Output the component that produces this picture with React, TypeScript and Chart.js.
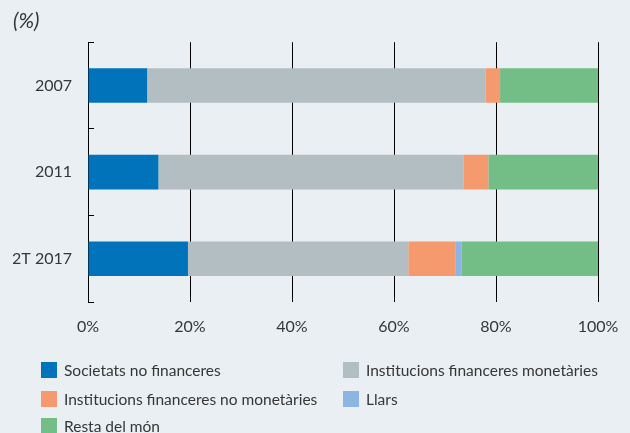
import { useEffect, useRef } from 'react';
import { Chart, registerables } from 'chart.js';

Chart.register(...registerables);

const categories = ['2007', '2011', '2T 2017'];
const seriesNames = [
  'Societats no financeres',
  'Institucions financeres monetàries',
  'Institucions financeres no monetàries',
  'Llars',
  'Resta del món',
];
const societats = [11.6, 13.8, 19.6];
const ifm = [66.4, 59.8, 43.2];
const inm = [2.8, 4.9, 9.2];
const llars = [0, 0, 1.2];
const resta = [19.2, 21.5, 26.8];
const seriesColors = ['#0073bb', '#b3bec2', '#f49a6e', '#8db4e2', '#72be86'];
const xTickValues = [0, 20, 40, 60, 80, 100];

const BG = '#e9eff3';
const TEXT = '#363636';
const FONT = 'Lato';

const gridLegend = {
  id: 'gridLegend',
  afterDraw(chart: any) {
    const ctx = chart.ctx;
    const cols = [41, 343];
    const rows = [370, 399, 426];
    ctx.save();
    chart.data.datasets.forEach((ds: any, i: number) => {
      const x = cols[i % 2];
      const y = rows[Math.floor(i / 2)];
      ctx.fillStyle = ds.backgroundColor;
      ctx.fillRect(x, y - 8, 16, 16);
      ctx.fillStyle = TEXT;
      ctx.font = `15.5px ${FONT}`;
      ctx.textBaseline = 'middle';
      ctx.textAlign = 'left';
      ctx.fillText(ds.label, x + 23, y + 1);
    });
    ctx.restore();
  },
};

export default function App() {
  const ref = useRef<HTMLCanvasElement | null>(null);

  useEffect(() => {
    document.body.style.margin = '0';
    document.body.style.background = BG;
    const values = [societats, ifm, inm, llars, resta];
    const chart = new Chart(ref.current as HTMLCanvasElement, {
      type: 'bar',
      data: {
        labels: categories,
        datasets: seriesNames.map((name, i) => ({
          label: name,
          data: values[i],
          backgroundColor: seriesColors[i],
          borderWidth: 0,
          barPercentage: 0.4,
          categoryPercentage: 1,
        })),
      },
      options: {
        indexAxis: 'y',
        animation: false,
        responsive: true,
        maintainAspectRatio: false,
        layout: { padding: { left: 13, right: 32, top: 0, bottom: 91 } },
        plugins: {
          legend: { display: false },
          tooltip: { enabled: false },
          title: {
            display: true,
            text: '(%)',
            align: 'start',
            color: TEXT,
            font: { family: FONT, size: 21, style: 'italic', weight: 'normal' },
            padding: { top: 9, bottom: 8 },
          },
        },
        scales: {
          x: {
            stacked: true,
            min: 0,
            max: 100,
            afterBuildTicks: (scale: any) => {
              scale.ticks = xTickValues.map((v) => ({ value: v }));
            },
            afterFit: (scale: any) => {
              scale.height = 40;
              scale.paddingLeft = 0;
              scale.paddingRight = 0;
            },
            grid: { color: '#000', lineWidth: 1, drawTicks: false, drawOnChartArea: true },
            border: { display: false },
            ticks: {
              color: TEXT,
              font: { family: FONT, size: 16 },
              padding: 15,
              callback: (v: any) => `${v}%`,
            },
          },
          y: {
            stacked: true,
            afterFit: (scale: any) => {
              scale.width = 75;
            },
            grid: {
              offset: true,
              drawOnChartArea: false,
              drawTicks: true,
              tickLength: -6,
              color: '#000',
              lineWidth: 1,
            },
            border: { display: true, color: '#000', width: 1 },
            ticks: {
              color: TEXT,
              font: { family: FONT, size: 16 },
              padding: 22,
            },
          },
        },
      },
      plugins: [gridLegend],
    } as any);
    return () => chart.destroy();
  }, []);

  return (
    <div style={{ width: 630, height: 433, background: BG, position: 'relative' }}>
      <canvas ref={ref} />
    </div>
  );
}
